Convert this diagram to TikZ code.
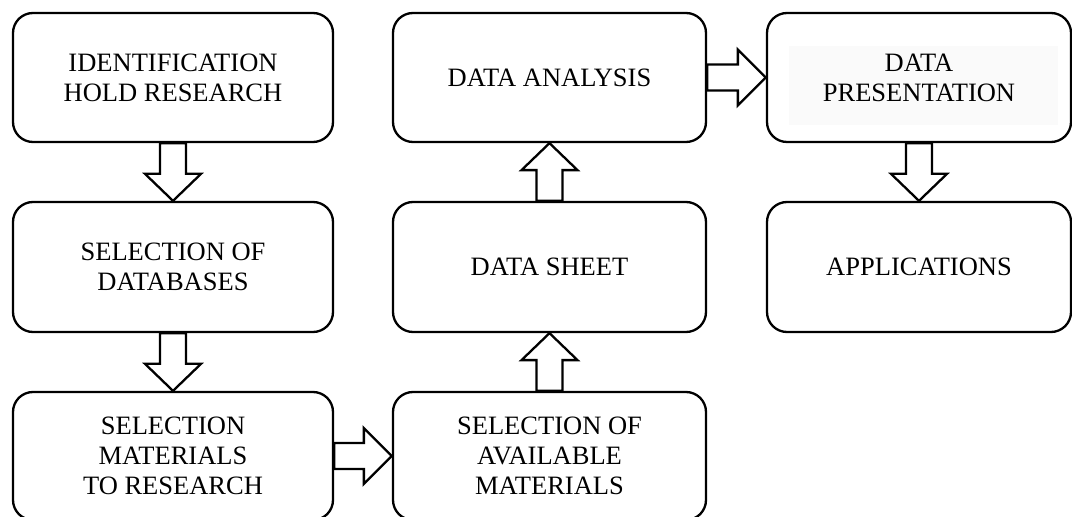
\documentclass[tikz,border=0pt]{standalone}
\usepackage{fontspec}
\setmainfont{Liberation Serif}
\usetikzlibrary{calc}

\tikzset{
  x=1pt, y=1pt,
  stage/.style={draw=black, line width=2.3pt, rounded corners=20pt,
    align=center, inner sep=0pt, font=\fontsize{26.5}{30}\selectfont},
  barrow/.style={draw=black, fill=white, line width=2.3pt, line join=miter},
}

% Hollow block arrows between two node anchors
\newcommand\blockdown[2]{%
  \draw[barrow] ($(#1)+(-13,0)$) -- ($(#2)+(-13,27)$) -- ($(#2)+(-28,27)$)
    -- (#2) -- ($(#2)+(28,27)$) -- ($(#2)+(13,27)$) -- ($(#1)+(13,0)$) -- cycle;}
\newcommand\blockup[2]{%
  \draw[barrow] ($(#1)+(-13,0)$) -- ($(#2)+(-13,-27)$) -- ($(#2)+(-28,-27)$)
    -- (#2) -- ($(#2)+(28,-27)$) -- ($(#2)+(13,-27)$) -- ($(#1)+(13,0)$) -- cycle;}
\newcommand\blockright[2]{%
  \draw[barrow] ($(#1)+(0,13)$) -- ($(#2)+(-28,13)$) -- ($(#2)+(-28,28)$)
    -- (#2) -- ($(#2)+(-28,-28)$) -- ($(#2)+(-28,-13)$) -- ($(#1)+(0,-13)$) -- cycle;}

\begin{document}
\begin{tikzpicture}
\useasboundingbox (0,0) rectangle (1072,517);

% faint shading behind the presentation label
\fill[black!2] (789,392) rectangle (1058,471);

% first column
\node[stage, minimum width=320, minimum height=129] (ident) at (173,439.5)
  {IDENTIFICATION\\HOLD RESEARCH};
\node[stage, minimum width=320, minimum height=130] (dbsel) at (173,250)
  {SELECTION OF\\DATABASES};
\node[stage, minimum width=320, minimum height=128] (matsel) at (173,61)
  {SELECTION\\MATERIALS\\TO RESEARCH};

% second column
\node[stage, minimum width=313, minimum height=128] (avail) at (549.5,61)
  {SELECTION OF\\AVAILABLE\\MATERIALS};
\node[stage, minimum width=313, minimum height=130] (sheet) at (549.5,250)
  {DATA SHEET};
\node[stage, minimum width=313, minimum height=129] (analysis) at (549.5,439.5)
  {DATA ANALYSIS};

% third column
\node[stage, minimum width=304, minimum height=129] (present) at (919,439.5)
  {DATA\\PRESENTATION};
\node[stage, minimum width=304, minimum height=130] (apps) at (919,250)
  {APPLICATIONS};

% flow
\blockdown{ident.south}{dbsel.north}
\blockdown{dbsel.south}{matsel.north}
\blockright{matsel.east}{avail.west}
\blockup{avail.north}{sheet.south}
\blockup{sheet.north}{analysis.south}
\blockright{analysis.east}{present.west}
\blockdown{present.south}{apps.north}
\end{tikzpicture}
\end{document}
